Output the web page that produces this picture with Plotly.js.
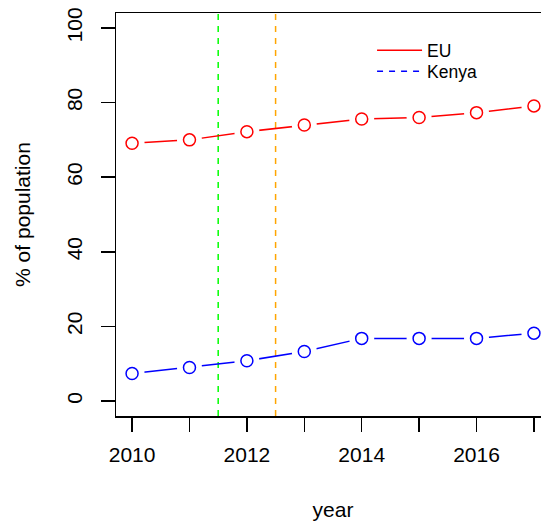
<!DOCTYPE html>
<html>
<head>
<meta charset="utf-8">
<script src="https://cdn.plot.ly/plotly-3.0.1.min.js"></script>
<style>
html, body { margin: 0; padding: 0; overflow: hidden; background: #fff; }
#chart { width: 550px; height: 521px; }
</style>
</head>
<body>
<div id="chart"></div>
<script>
// Data
const years = [2010, 2011, 2012, 2013, 2014, 2015, 2016, 2017];
const euValues = [69.1, 70.0, 72.2, 74.0, 75.6, 76.0, 77.3, 79.1];
const kenyaValues = [7.4, 9.0, 10.8, 13.3, 16.8, 16.8, 16.8, 18.2];
const seriesNames = ["EU", "Kenya"];
const xTickVals = [2010, 2011, 2012, 2013, 2014, 2015, 2016, 2017];
const xTickText = ["2010", "", "2012", "", "2014", "", "2016", ""];
const yTickVals = [0, 20, 40, 60, 80, 100];
const yTickText = ["0", "20", "40", "60", "80", "100"];
const vLines = [2011.5, 2012.5];
const vLineColors = ["#00FF00", "#FFA500"];

const FONT = "Liberation Sans, Arial, Helvetica, sans-serif";

function seriesTraces(x, y, color) {
  return [
    { x: x, y: y, mode: "lines", type: "scatter", showlegend: false, hoverinfo: "skip",
      line: { color: color, width: 1.5 } },
    { x: x, y: y, mode: "markers", type: "scatter", showlegend: false, hoverinfo: "skip",
      marker: { color: "#FFFFFF", size: 25, line: { width: 0 } } },
    { x: x, y: y, mode: "markers", type: "scatter", showlegend: false,
      marker: { symbol: "circle-open", color: color, size: 12, line: { width: 1.5, color: color } } }
  ];
}

const traces = []
  .concat(seriesTraces(years, euValues, "#FF0000"))
  .concat(seriesTraces(years, kenyaValues, "#0000FF"));

// legend-only entries (R legend with lty = 1:2)
traces.push({ x: [null], y: [null], mode: "lines", type: "scatter", name: seriesNames[0],
  legend: "legend", line: { color: "#FF0000", width: 1.5 } });
traces.push({ x: [null], y: [null], mode: "lines", type: "scatter", name: seriesNames[1],
  legend: "legend2", line: { color: "#0000FF", width: 1.5, dash: "6px,6px" } });

const shapes = vLines.map((v, i) => ({
  type: "line", xref: "x", yref: "paper", x0: v, x1: v, y0: 0, y1: 1,
  line: { color: vLineColors[i], width: 1.5, dash: "6px,6px" }, layer: "below"
}));

const legendBase = {
  xanchor: "left", yanchor: "top",
  bgcolor: "rgba(0,0,0,0)", borderwidth: 0,
  font: { family: FONT, size: 17.5, color: "#000" },
  tracegroupgap: 0, itemwidth: 45
};

const layout = {
  width: 550, height: 521,
  margin: { l: 116, r: 0, t: 13.3, b: 105.3, pad: 0 },
  paper_bgcolor: "#FFFFFF", plot_bgcolor: "#FFFFFF",
  font: { family: FONT, size: 21, color: "#000" },
  showlegend: true,
  legend: Object.assign({}, legendBase, { x: 0.59, y: 0.952 }),
  legend2: Object.assign({}, legendBase, { x: 0.59, y: 0.900 }),
  xaxis: {
    range: [2009.72, 2017.28], tickmode: "array", tickvals: xTickVals, ticktext: xTickText,
    ticks: "outside", ticklen: 14, tickwidth: 1.5, tickcolor: "#000", ticklabelstandoff: 5,
    showline: true, linecolor: "#000", linewidth: 1.5, mirror: true,
    showgrid: false, zeroline: false, automargin: false,
    tickfont: { family: FONT, size: 21 },
    title: { text: "year", font: { family: FONT, size: 21 }, standoff: 48 }
  },
  yaxis: {
    range: [-4, 104], tickmode: "array", tickvals: yTickVals, ticktext: yTickText,
    ticks: "outside", ticklen: 14, tickwidth: 1.5, tickcolor: "#000", tickangle: -90,
    ticklabelstandoff: 10,
    showline: true, linecolor: "#000", linewidth: 1.5, mirror: true,
    showgrid: false, zeroline: false, automargin: false,
    tickfont: { family: FONT, size: 21 },
    title: { text: "% of population", font: { family: FONT, size: 21 }, standoff: 26 }
  },
  shapes: shapes
};

Plotly.newPlot("chart", traces, layout, { displayModeBar: false, staticPlot: true });
</script>
</body>
</html>
